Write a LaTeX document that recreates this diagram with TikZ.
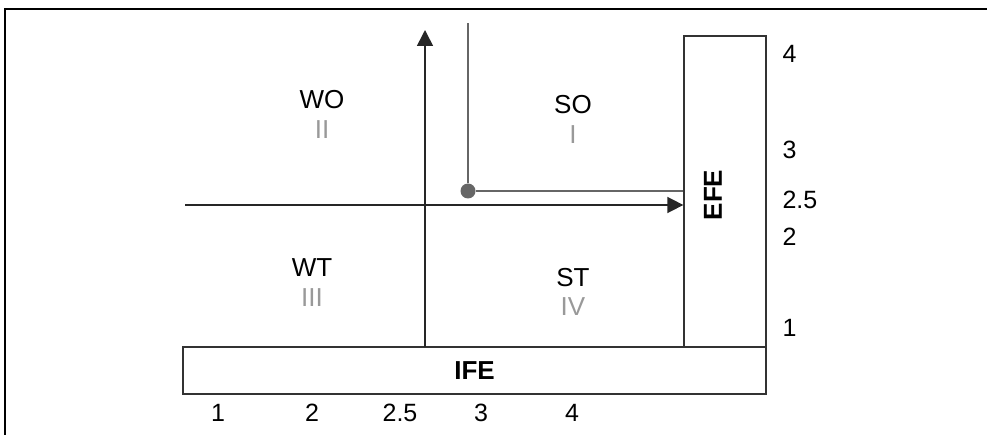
\documentclass[tikz,border=0pt]{standalone}
\usepackage{fontspec}
\setmainfont{Liberation Sans}
\usetikzlibrary{arrows.meta}

\definecolor{numgray}{HTML}{999999}
\definecolor{linegray}{HTML}{666666}

\begin{document}
\begin{tikzpicture}[x=1pt,y=-1pt,>={Triangle[length=16pt,width=16pt]},
                    box/.style={draw=black!80, line width=1.3pt, inner sep=0pt},
                    axis/.style={->, line width=1.6pt, black!85},
                    guide/.style={draw=linegray, line width=1.5pt},
                    quad/.style={font=\fontsize{26}{28}\selectfont},
                    roman/.style={font=\fontsize{26}{28}\selectfont, text=numgray},
                    scale num/.style={font=\fontsize{25}{27}\selectfont}]

  \useasboundingbox (0,0) rectangle (987,435);
  \draw[line width=1.8pt] (5,435) -- (5,9) -- (987,9);

  % boxes
  \node[box, minimum width=583pt, minimum height=47pt] (IFE) at (474.5,370.5)
       {\fontsize{26}{28}\selectfont\bfseries IFE};
  \node[box, minimum width=82pt, minimum height=311pt] (EFE) at (725,191.5) {};
  \node[rotate=90, font=\fontsize{26}{28}\selectfont\bfseries] (EFElabel) at (713,195) {EFE};

  % axes
  \coordinate (vbottom) at (425,347);
  \coordinate (vtop) at (425,30);
  \coordinate (hleft) at (185,205);
  \draw[axis] (vbottom) -- (vtop);
  \draw[axis] (hleft) -- (EFE.west |- hleft);

  % position
  \node[circle, fill=linegray, minimum size=15pt, inner sep=0pt] (P) at (468,191) {};
  \coordinate (ptop) at (468,23);
  \draw[guide] (P) -- (ptop);
  \draw[guide] (P) -- (P -| EFE.west);

  % quadrants
  \node[quad]  (WO)  at (322,100) {WO};
  \node[roman] (II)  at (322,130) {II};
  \node[quad]  (SO)  at (573,105) {SO};
  \node[roman] (I)   at (573,135) {I};
  \node[quad]  (WT)  at (312,268) {WT};
  \node[roman] (III) at (312,298) {III};
  \node[quad]  (ST)  at (573,278) {ST};
  \node[roman] (IV)  at (573,307) {IV};

  % EFE scale
  \foreach \v/\y in {4/54, 3/150, 2.5/200, 2/237, 1/328}
    \node[scale num, anchor=west] (efe\v) at (779,\y) {\v};

  % IFE scale
  \foreach \v/\x in {1/218, 2/312, 2.5/400, 3/481, 4/572}
    \node[scale num] (ife\v) at (\x,413) {\v};
\end{tikzpicture}
\end{document}
